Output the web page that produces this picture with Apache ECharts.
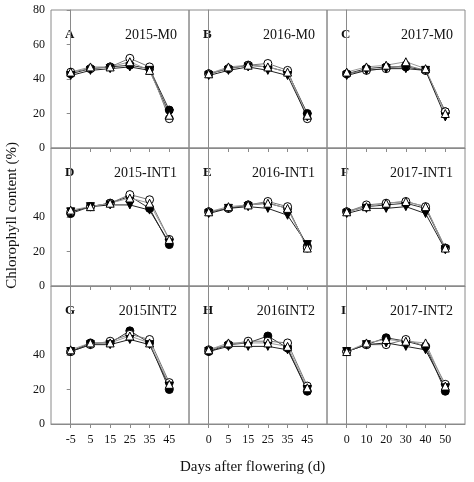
<!DOCTYPE html>
<html><head><meta charset="utf-8">
<script src="https://cdn.jsdelivr.net/npm/echarts@6/dist/echarts.min.js"></script>
<style>html,body{margin:0;padding:0;background:#fff}#c{width:474px;height:482px}</style>
</head><body><div id="c"></div>
<script>
const xLabels = [
  ['-5','5','15','25','35','45'],
  ['0','5','15','25','35','45'],
  ['0','10','20','30','40','50']
];
const panelLetters = ['A','B','C','D','E','F','G','H','I'];
const panelNames = ['2015-M0','2016-M0','2017-M0','2015-INT1','2016-INT1','2017-INT1','2015INT2','2016INT2','2017-INT2'];
// series: filled circle, open circle, filled down-triangle, open up-triangle
const filledCircle = [
  [43,46,47,48,46,22],[43,46,48,47,44,20],[43,46,47,47,45,21],
  [42,46,48,52,45,24],[43,45,47,48,45,23],[43,46,47,48,45,22],
  [42,47,47,54,47,20],[42,46,47,51,44,19],[42,46,50,48,45,19]
];
const openCircle = [
  [44,46,47,52,47,17],[43,46,48,49,45,17],[43,45,46,48,45,21],
  [43,46,48,53,50,27],[43,45,47,49,46,22],[43,47,48,49,46,22],
  [42,46,48,52,49,24],[43,46,48,48,47,22],[42,46,46,49,45,23]
];
const filledDown = [
  [42,45,46,47,45,20],[42,45,47,45,42,18],[42,45,46,46,45,18],
  [43,46,47,47,44,25],[42,45,46,45,41,24],[42,45,45,46,42,21],
  [42,46,46,49,46,22],[42,45,45,45,43,20],[42,46,47,45,43,21]
];
const openUp = [
  [44,47,47,50,45,19],[43,47,48,47,44,19],[44,47,48,50,46,20],
  [44,46,48,51,48,27],[43,46,47,48,45,22],[43,46,48,49,46,22],
  [43,47,47,51,47,23],[43,47,47,47,45,21],[42,47,49,48,47,22]
];
const yTicks = [0,20,40,60,80];

const font = 'Liberation Serif';
const L = 51, T = 10, W = 138, H = 138;
const grids = [], xAxes = [], yAxes = [], series = [], graphics = [];
const idx = [0,1,2,3,4,5];
for (let p = 0; p < 9; p++) {
  const r = Math.floor(p/3), c = p%3;
  grids.push({left: L + c*W, top: T + r*H, width: W, height: H, show: true, borderColor: '#8a8a8a', borderWidth: 1, backgroundColor: 'transparent'});
  xAxes.push({type: 'value', gridIndex: p, min: -1, max: 6, interval: 1,
    axisLine: {show: true, lineStyle: {color: '#8a8a8a'}}, splitLine: {show: false},
    axisTick: {show: true, length: 4, customValues: idx, lineStyle: {color: '#8a8a8a'}},
    axisLabel: {show: r === 2, customValues: idx, formatter: v => xLabels[c][v] ?? '', fontFamily: font, fontSize: 12, color: '#111', margin: 10}});
  yAxes.push({type: 'value', gridIndex: p, min: 0, max: 80, interval: 20, position: 'left',
    axisLine: {show: true, lineStyle: {color: '#8a8a8a'}}, splitLine: {show: false},
    axisTick: {show: c === 0, length: 4, inside: false, lineStyle: {color: '#8a8a8a'}},
    axisLabel: {show: c === 0, showMaxLabel: r === 0, customValues: r === 0 ? yTicks : yTicks.slice(0,4), fontFamily: font, fontSize: 12, color: '#111', margin: 6}});
  const defs = [
    [filledCircle, 'circle', 0, '#000', '#000', '#333'],
    [openCircle, 'circle', 0, '#fff', '#000', '#777'],
    [filledDown, 'triangle', 180, '#000', '#000', '#222'],
    [openUp, 'triangle', 0, '#fff', '#000', '#999']
  ];
  defs.forEach(([arr, sym, rot, fill, bc, lc]) => {
    series.push({type: 'line', xAxisIndex: p, yAxisIndex: p, symbol: sym, symbolRotate: rot, symbolSize: 8,
      data: arr[p].map((v,i) => [i, v]), lineStyle: {color: lc, width: 1},
      itemStyle: {color: fill, borderColor: bc, borderWidth: 1}, animation: false, z: 3});
  });
  graphics.push({type: 'text', left: L + c*W + 14, top: T + r*H + 18, style: {text: panelLetters[p], font: 'bold 13px "Liberation Serif"', fill: '#111'}});
  graphics.push({type: 'text', right: 474 - (L + (c+1)*W) + 12, top: T + r*H + 18, style: {text: panelNames[p], font: '14px "Liberation Serif"', fill: '#111'}});
}
graphics.push({type: 'text', left: 5, top: 142, rotation: Math.PI/2, style: {text: 'Chlorophyll content (%)', font: '15px "Liberation Serif"', fill: '#111'}});
graphics.push({type: 'text', left: 180, top: 460, style: {text: 'Days after flowering (d)', font: '15px "Liberation Serif"', fill: '#111'}});

const chart = echarts.init(document.getElementById('c'), null, {renderer: 'canvas'});
chart.setOption({animation: false, grid: grids, xAxis: xAxes, yAxis: yAxes, series, graphic: graphics});
</script></body></html>
